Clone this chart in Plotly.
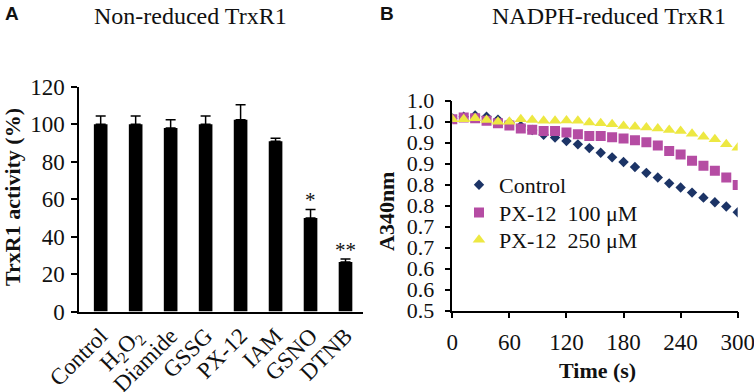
import plotly.graph_objects as go

# ---------- Panel A data ----------
categories = ["Control", "H<sub>2</sub>O<sub>2</sub>", "Diamide", "GSSG", "PX-12", "IAM", "GSNO", "DTNB"]
activity = [100, 100, 98, 100, 102.5, 91, 50, 26.5]
activity_err = [4.5, 4.5, 4.5, 4.5, 8, 1.5, 4.5, 1.5]
significance = ["", "", "", "", "", "", "*", "**"]
a_yticks = [0, 20, 40, 60, 80, 100, 120]

# ---------- Panel B data ----------
time_s = [0, 12, 24, 36, 48, 60, 72, 84, 96, 108, 120, 132, 144, 156, 168, 180,
          192, 204, 216, 228, 240, 252, 264, 276, 288, 300]
control = [0.958, 0.962, 0.965, 0.962, 0.955, 0.948, 0.940, 0.930, 0.919, 0.912,
           0.904, 0.896, 0.887, 0.876, 0.865, 0.854, 0.842, 0.828, 0.817, 0.803,
           0.793, 0.781, 0.769, 0.758, 0.748, 0.734]
px12_100 = [0.956, 0.960, 0.958, 0.952, 0.946, 0.941, 0.934, 0.931, 0.928, 0.928,
            0.924, 0.920, 0.916, 0.916, 0.913, 0.910, 0.906, 0.901, 0.893, 0.880,
            0.872, 0.857, 0.845, 0.833, 0.817, 0.799]
px12_250 = [0.956, 0.956, 0.958, 0.954, 0.950, 0.950, 0.956, 0.954, 0.952, 0.952,
            0.953, 0.952, 0.948, 0.946, 0.944, 0.940, 0.938, 0.936, 0.934, 0.930,
            0.928, 0.921, 0.914, 0.908, 0.896, 0.888]
b_yticks = [0.5, 0.55, 0.6, 0.65, 0.7, 0.75, 0.8, 0.85, 0.9, 0.95, 1.0]
b_yticktext = ["0.5", "0.6", "0.6", "0.7", "0.7", "0.8", "0.8", "0.9", "0.9", "1.0", "1.0"]
b_xticks = [0, 60, 120, 180, 240, 300]
series_names = ["Control", "PX-12\u00a0\u00a0100 \u03bcM", "PX-12\u00a0\u00a0250 \u03bcM"]

W, H = 754, 392
SERIF = "Liberation Serif, Times New Roman, serif"
SANS = "Liberation Sans, Arial, sans-serif"
TXT = "#111111"
TICK = 23

def px_x(p):
    return p / W

def px_y(p):
    return (H - p) / H

fig = go.Figure()

x_idx = list(range(len(categories)))
fig.add_trace(go.Bar(
    x=x_idx, y=activity, width=0.39,
    marker=dict(color="#000000", line=dict(width=0)),
    error_y=dict(type="data", symmetric=False, array=activity_err,
                 arrayminus=[0] * len(activity_err), color="#000000",
                 thickness=1.5, width=5),
    xaxis="x", yaxis="y", showlegend=False, hoverinfo="skip",
))

fig.add_trace(go.Scatter(
    x=time_s, y=control, mode="markers", name=series_names[0], legend="legend",
    marker=dict(symbol="diamond", size=8, color="#1c3466", line=dict(width=0)),
    xaxis="x2", yaxis="y2",
))
fig.add_trace(go.Scatter(
    x=time_s, y=px12_100, mode="markers", name=series_names[1], legend="legend2",
    marker=dict(symbol="square", size=10, color="#b54ca3", line=dict(width=0)),
    xaxis="x2", yaxis="y2",
))
fig.add_trace(go.Scatter(
    x=time_s, y=px12_250, mode="markers", name=series_names[2], legend="legend3",
    marker=dict(symbol="triangle-up", size=11, color="#ede842", line=dict(width=0)),
    xaxis="x2", yaxis="y2",
))

annotations = []
for i, s in enumerate(significance):
    if s:
        annotations.append(dict(
            x=i, y=activity[i] + activity_err[i], xref="x", yref="y",
            text=s, showarrow=False, yanchor="bottom", yshift=-5,
            font=dict(family=SERIF, size=21, color=TXT),
        ))

def paper_text(text, x, y, size, family=SERIF, angle=0, xanchor="center"):
    return dict(text=text, x=px_x(x), y=px_y(y), xref="paper", yref="paper",
                xanchor=xanchor, yanchor="middle", textangle=angle, showarrow=False,
                font=dict(family=family, size=size, color=TXT))

annotations += [
    paper_text("Non-reduced TrxR1", 190, 16, 24),
    paper_text("NADPH-reduced TrxR1", 609, 16, 24),
    paper_text("<b>A</b>", 3, 13, 19, family=SANS, xanchor="left"),
    paper_text("<b>B</b>", 378, 13, 19, family=SANS, xanchor="left"),
    paper_text("<b>TrxR1 activity (%)</b>", 12, 197, 22, angle=-90),
    paper_text("<b>A340nm</b>", 386, 212, 22, angle=-90),
    paper_text("<b>Time (s)</b>", 597, 370, 22),
]

axis_common = dict(showline=True, linecolor="#000000", linewidth=1.5,
                   showgrid=False, zeroline=False, automargin=False,
                   ticklabeloverflow="allow")

legend_common = dict(xanchor="left", yanchor="middle", bgcolor="rgba(0,0,0,0)",
                     borderwidth=0, itemwidth=30,
                     font=dict(family=SERIF, size=22, color=TXT))

fig.update_layout(
    template="none",
    width=W, height=H,
    margin=dict(l=0, r=0, t=0, b=0, pad=0),
    paper_bgcolor="white", plot_bgcolor="white",
    font=dict(family=SERIF, size=22, color=TXT),
    annotations=annotations,
    xaxis=dict(domain=[px_x(79), px_x(363)], range=[-0.62, 7.5],
               tickmode="array", tickvals=x_idx, ticktext=categories,
               tickangle=-45, ticks="", anchor="y",
               tickfont=dict(family=SERIF, size=TICK, color=TXT), **axis_common),
    yaxis=dict(domain=[px_y(311.5), px_y(86.9)], range=[0, 120],
               tickmode="array", tickvals=a_yticks, ticks="outside", ticklen=6,
               tickwidth=1.5, tickcolor="#000000", anchor="x",
               tickfont=dict(family=SERIF, size=TICK, color=TXT),
               ticklabelstandoff=2, **axis_common),
    xaxis2=dict(domain=[px_x(452.3), px_x(737.7)], range=[0, 300],
                tickmode="array", tickvals=b_xticks, ticks="outside", ticklen=6,
                tickwidth=1.5, tickcolor="#000000", anchor="y2",
                tickfont=dict(family=SERIF, size=TICK, color=TXT),
                ticklabelstandoff=4, **axis_common),
    yaxis2=dict(domain=[px_y(310.5), px_y(100.7)], range=[0.5, 1.0],
                tickmode="array", tickvals=b_yticks, ticktext=b_yticktext,
                ticks="outside", ticklen=6, tickwidth=1.5, tickcolor="#000000",
                anchor="x2", tickfont=dict(family=SERIF, size=22, color=TXT),
                ticklabelstandoff=6, **axis_common),
    legend=dict(x=px_x(459), y=px_y(185), **legend_common),
    legend2=dict(x=px_x(459), y=px_y(212.7), **legend_common),
    legend3=dict(x=px_x(459), y=px_y(240), **legend_common),
    showlegend=True,
)

fig.write_html("out.html", config={"displayModeBar": False},
               post_script="document.body.style.margin='0';")
